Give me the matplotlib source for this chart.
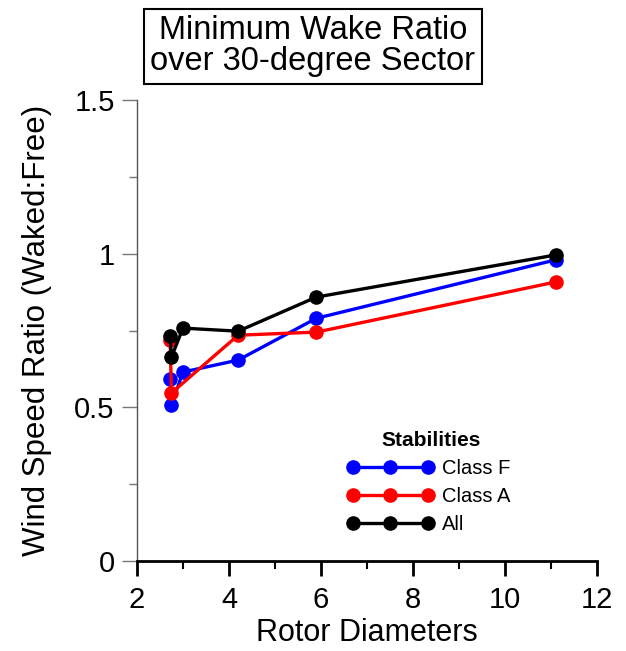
import matplotlib
matplotlib.use("Agg")
import matplotlib.pyplot as plt
from matplotlib.ticker import MultipleLocator

plt.rcParams["font.family"] = ["Liberation Sans", "DejaVu Sans"]

# data
x_f = [2.72, 2.75, 3.0, 4.2, 5.9, 11.1]
y_f = [0.592, 0.508, 0.615, 0.654, 0.79, 0.98]

x_a = [2.72, 2.75, 4.2, 5.9, 11.1]
y_a = [0.72, 0.547, 0.735, 0.745, 0.908]

x_all = [2.72, 2.75, 3.0, 4.2, 5.9, 11.1]
y_all = [0.732, 0.664, 0.758, 0.748, 0.859, 0.996]

series = [
    ("Class F", x_f, y_f, "#0000ff"),
    ("Class A", x_a, y_a, "#ff0000"),
    ("All", x_all, y_all, "#000000"),
]

fig = plt.figure(figsize=(6.26, 6.51), dpi=100)
ax = fig.add_axes([0.2188, 0.1382, 0.7348, 0.708])

for label, xs, ys, color in series:
    ax.plot(xs, ys, color=color, linewidth=2.4, marker="o", markersize=9.5,
            label=label, clip_on=False)

ax.set_xlim(2, 12)
ax.set_ylim(0, 1.5)
ax.xaxis.set_major_locator(MultipleLocator(2))
ax.xaxis.set_minor_locator(MultipleLocator(1))
ax.yaxis.set_minor_locator(MultipleLocator(0.25))
ax.set_yticks([0, 0.5, 1, 1.5])
ax.set_yticklabels(["0", "0.5", "1", "1.5"])

ax.spines["top"].set_visible(False)
ax.spines["right"].set_visible(False)
ax.spines["left"].set_color("#555555")
ax.spines["left"].set_linewidth(1.0)
ax.spines["bottom"].set_color("black")
ax.spines["bottom"].set_linewidth(2.0)

ax.tick_params(axis="x", which="major", length=11, width=2, color="black",
               labelsize=21, pad=7)
ax.tick_params(axis="x", which="minor", length=6, width=1.5, color="black")
ax.tick_params(axis="y", which="major", length=11, width=1, color="#777777",
               labelsize=21, pad=5)
ax.tick_params(axis="y", which="minor", length=6, width=1, color="#777777")

ax.set_xlabel("Rotor Diameters", fontsize=22, labelpad=3)
ax.set_ylabel("Wind Speed Ratio (Waked:Free)", fontsize=22.5, labelpad=16)

fig.text(0.5, 0.929, "Minimum Wake Ratio\nover 30-degree Sector", ha="center",
         va="center", fontsize=23.5, linespacing=1.0,
         bbox=dict(boxstyle="square,pad=0.2", facecolor="white",
                   edgecolor="black", linewidth=1.5))

leg = ax.legend(title="Stabilities", loc="lower left",
                bbox_to_anchor=(0.439, 0.028), frameon=False, fontsize=14.5,
                handlelength=3.7, handletextpad=0.7, labelspacing=0.45,
                borderpad=0.2)
leg.get_title().set_fontweight("bold")
leg.get_title().set_fontsize(15)
for h in leg.legend_handles:
    h.set_markevery([0, 1, 2])
    h.set_markersize(9.5)

fig.savefig("out.png", dpi=100)
